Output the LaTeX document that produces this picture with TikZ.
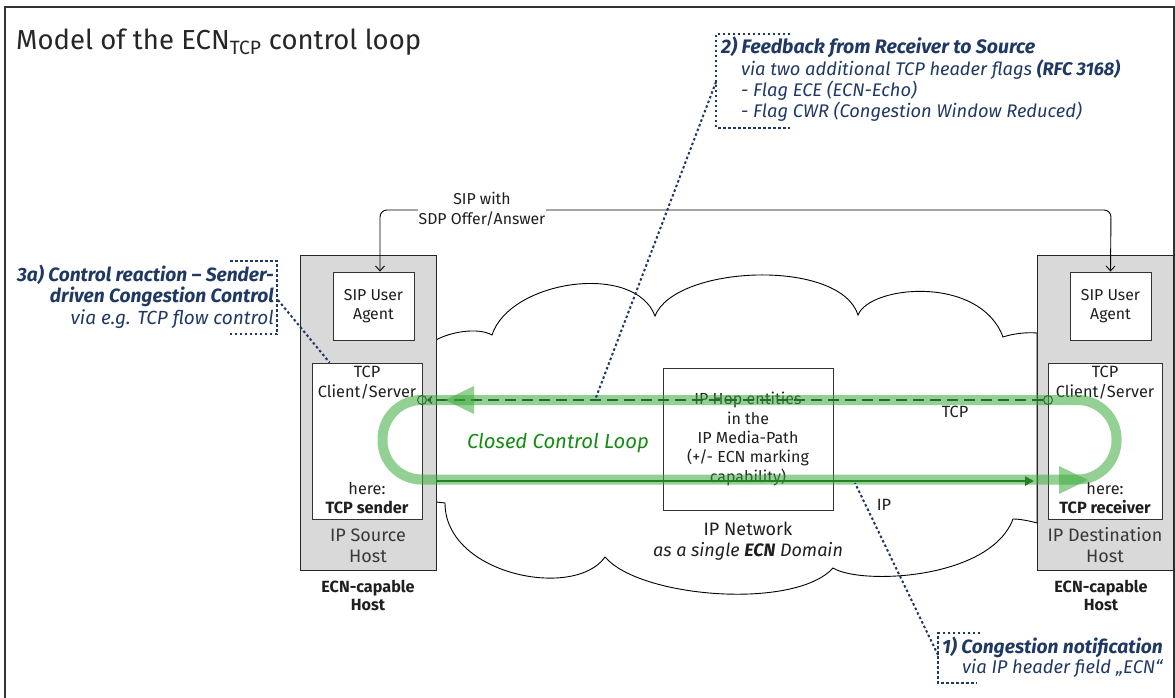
\documentclass[tikz,border=0pt]{standalone}
\usepackage{fontspec}
\setmainfont{Fira Sans}
\usetikzlibrary{arrows.meta,calc}
\definecolor{navy}{RGB}{31,56,100}
\definecolor{hostgray}{RGB}{217,217,217}
\definecolor{bandgreen}{RGB}{60,170,60}
\definecolor{loopgreen}{RGB}{20,140,20}
\definecolor{ipgreen}{RGB}{12,75,12}
\newcommand\fsz[2]{\fontsize{#1}{#2}\selectfont}
\begin{document}
\begin{tikzpicture}[x=1pt,y=-1pt,
  box/.style={draw=black!80, line width=0.9pt, fill=white, inner sep=0pt},
  host/.style={draw=black!85, line width=1pt, fill=hostgray, inner sep=0pt},
  txt/.style={font=\fsz{15.8}{19.5}, text=black!88, align=center, inner sep=0pt},
  ann/.style={text=navy, inner sep=0pt, anchor=base west},
  annr/.style={text=navy, inner sep=0pt, anchor=base east},
  dotl/.style={navy, line width=2pt, dash pattern=on 2.5pt off 2.5pt},
  sipl/.style={line width=0.9pt, black, {Straight Barb[length=5pt,width=9pt]}-{Straight Barb[length=5pt,width=9pt]}, rounded corners=7pt},
  tcpl/.style={line width=1.3pt, black!90, dash pattern=on 11pt off 6pt, -{Straight Barb[length=4pt,width=7pt]}},
  ipl/.style={line width=2.2pt, ipgreen, -{Triangle[length=9pt,width=9pt]}},
  band/.style={line width=10pt, bandgreen, opacity=0.55},
  bandtip/.style={fill=bandgreen, opacity=0.55},
  ring/.style={circle, draw=black!85, line width=1pt, minimum size=9pt, inner sep=0pt}
]
\clip (0,0) rectangle (1175,698);
\useasboundingbox (0,0) rectangle (1175,698);
% frame
\draw[line width=1.2pt, black!80] (5,720) -- (5,7) -- (1174,7) -- (1174,720);
% title
\node[anchor=base west, inner sep=0pt, font=\fsz{27.5}{30}, text=black!85] (title) at (16,50) {Model of the ECN\textsubscript{TCP} control loop};
% cloud
\draw[line width=0.9pt, fill=white] (436,340)
  .. controls (450,332) and (478,327) .. (492,335)
  .. controls (510,280) and (635,262) .. (655,316)
  .. controls (675,265) and (840,258) .. (858,315)
  .. controls (870,285) and (980,275) .. (1003,337)
  .. controls (1012,334) and (1025,332) .. (1037,333)
  -- (1037,523)
  .. controls (1030,521) and (1020,519) .. (1013,519)
  .. controls (990,580) and (860,585) .. (833,568)
  .. controls (795,610) and (640,598) .. (605,557)
  .. controls (575,600) and (445,575) .. (445,503)
  -- (436,502) -- cycle;
% hosts
\node[host, minimum width=136pt, minimum height=315pt] (hostL) at (368,412.5) {};
\node[host, minimum width=136pt, minimum height=315pt] (hostR) at (1105,412.5) {};
\node[box, txt, minimum width=81pt, minimum height=68pt] (sipL) at (373.5,306) {SIP User\\Agent};
\node[box, txt, minimum width=81pt, minimum height=68pt] (sipR) at (1110.5,306) {SIP User\\Agent};
\node[box, minimum width=110pt, minimum height=156pt] (tcpL) at (367,441) {};
\node[box, minimum width=114pt, minimum height=156pt] (tcpR) at (1105,441) {};
\node[txt, font=\fsz{16.3}{19.5}] (tcpLt) at (367,382.5) {TCP\\Client/Server};
\node[txt, font=\fsz{16.3}{19.5}] (tcpLb) at (367,498) {here:\\\textbf{TCP sender}};
\node[txt, font=\fsz{16.3}{19.5}] (tcpRt) at (1105,382.5) {TCP\\Client/Server};
\node[txt, font=\fsz{16.3}{19.5}] (tcpRb) at (1105,498) {here:\\\textbf{TCP receiver}};
\node[txt, font=\fsz{18}{21}, text=black!78] (srcL) at (368,545.5) {IP Source\\Host};
\node[txt, font=\fsz{18}{21}, text=black!78] (dstR) at (1105,545.5) {IP Destination\\Host};
\node[txt, font=\fsz{16.2}{18}\bfseries] (ecnL) at (368,595) {ECN-capable\\Host};
\node[txt, font=\fsz{16.2}{18}\bfseries] (ecnR) at (1101,595) {ECN-capable\\Host};
% IP hop box
\node[box, txt, font=\fsz{16}{19.3}, minimum width=170pt, minimum height=142pt] (hop) at (748,439) {IP Hop entities\\in the\\IP Media-Path\\(+/- ECN marking\\capability)};
\node[txt, font=\fsz{18}{21.5}] (net) at (748,541) {IP Network\\\textit{as a single \textbf{ECN} Domain}};
% SIP signalling
\draw[sipl] ($(sipL.north)+(6.5,0)$) |- (1111,210) -- (sipR.north);
\node[txt, fill=white, inner sep=1pt] (sdp) at (482,209) {SIP with\\SDP Offer/Answer};
% TCP and IP lines
\node[ring] (cL) at (422,400) {};
\node[ring] (cR) at (1048,400) {};
\draw[tcpl] (cR) -- (cL);
\coordinate (ipA) at (436,481);
\coordinate (ipB) at (1034,481);
\draw[ipl] (ipA) -- (ipB);
\node[txt, font=\fsz{16.3}{19.5}] (tcpLbl) at (955,412) {TCP};
\node[txt, font=\fsz{16.3}{19.5}] (ipLbl) at (884,505) {IP};
% closed loop band
\draw[band, rounded corners=39pt] (382.5,400) rectangle (1116.5,479.5);
\fill[bandtip] (445,400) -- (474,386) -- (474,414) -- cycle;
\fill[bandtip] (1088,480) -- (1059,466) -- (1059,494) -- cycle;
\node[font=\fsz{20.3}{24}\itshape, text=loopgreen, inner sep=0pt] (loop) at (558,443) {Closed Control Loop};
% annotation 2
\node[ann, font=\fsz{19.5}{20}\bfseries\itshape] (a2a) at (721,54) {2) Feedback from Receiver to Source};
\node[ann, font=\fsz{18.3}{20}\itshape] (a2b) at (741,75.5) {via two additional TCP header flags \textbf{(RFC 3168)}};
\node[ann, font=\fsz{18.3}{20}\itshape] (a2c) at (741,96.5) {- Flag ECE (ECN-Echo)};
\node[ann, font=\fsz{18.3}{20}\itshape] (a2d) at (741,117.5) {- Flag CWR (Congestion Window Reduced)};
\draw[dotl] (790,34) -- (716,34) -- (716,128) -- (790,128);
\coordinate (l2a) at (716,82);
\coordinate (l2b) at (595,400);
\draw[dotl] (l2a) -- (l2b);
% annotation 3a
\node[annr, font=\fsz{19.2}{20}\bfseries\itshape] (a3a) at (274,281) {3a) Control reaction – Sender-};
\node[annr, font=\fsz{19.2}{20}\bfseries\itshape] (a3b) at (274,302.5) {driven Congestion Control};
\node[annr, font=\fsz{19}{20}\itshape] (a3c) at (274,324) {via e.g. TCP flow control};
\draw[dotl] (230,261) -- (277,261) -- (277,334) -- (230,334);
\coordinate (l3a) at (278,300);
\draw[dotl] (l3a) -- ($(tcpL.north west)+(18,0)$);
% annotation 1
\node[ann, font=\fsz{19.2}{20}\bfseries\itshape] (a1a) at (942,653) {1) Congestion notification};
\node[ann, font=\fsz{18.4}{20}\itshape] (a1b) at (962,673.5) {via IP header field „ECN“};
\draw[dotl] (980,633) -- (938,633) -- (938,683) -- (977,683);
\coordinate (l1a) at (938,655);
\coordinate (l1b) at (855,483);
\draw[dotl] (l1a) -- (l1b);
\end{tikzpicture}
\end{document}
